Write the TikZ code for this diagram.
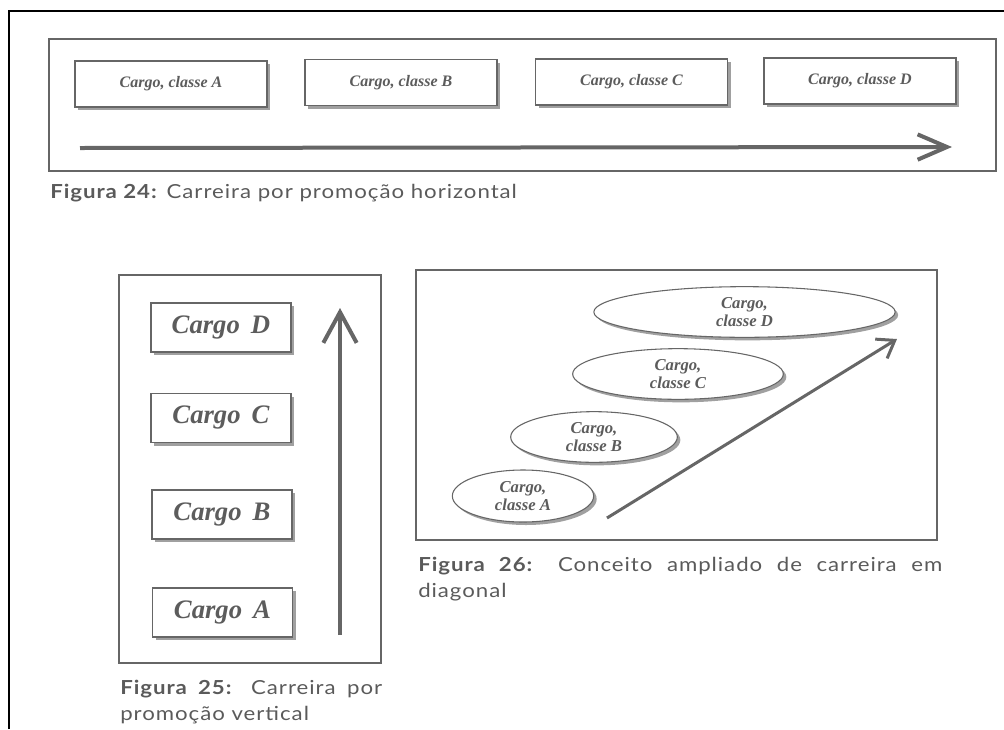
\documentclass[tikz,border=0pt]{standalone}
\usepackage{fontspec}
\setmainfont{Liberation Serif}
\newfontfamily\capfont[FakeStretch=1.15, LetterSpace=5]{Lato}
\usetikzlibrary{arrows.meta,shadows,shapes.geometric}
\definecolor{ink}{HTML}{5C5C5C}
\definecolor{linec}{HTML}{666666}
\definecolor{shad}{HTML}{A0A0A0}
\definecolor{capc}{HTML}{5A5A5A}
\begin{document}
\begin{tikzpicture}[x=0.75pt,y=-0.75pt,
  panel/.style={draw=linec, line width=1.5pt},
  dshadow/.style={drop shadow={shadow xshift=2.25pt, shadow yshift=-2.25pt, fill=shad, opacity=1}},
  hbox/.style={draw=linec, line width=1pt, fill=white, inner sep=0pt, minimum width=144pt, minimum height=34.5pt, text=ink, font=\fontsize{12}{14}\selectfont\bfseries\itshape, dshadow},
  vbox/.style={draw=linec, line width=1pt, fill=white, inner sep=0pt, minimum width=105pt, minimum height=36.75pt, text=ink, font=\fontsize{20}{22}\selectfont\bfseries\itshape, dshadow},
  ebox/.style={ellipse, draw=linec, line width=0.8pt, fill=white, inner sep=0pt, align=center, text=ink, font=\fontsize{12.5}{13}\selectfont\bfseries\itshape, dshadow},
  figcap/.style={inner sep=0pt, text=capc, font=\capfont\fontsize{14.5}{19.5}\selectfont},
  bigarrow/.style={draw=linec, line width=3pt}
]
\useasboundingbox (0,0) rectangle (1004,729);
% page frame
\draw[black, line width=1.5pt] (9,729) -- (9,11) -- (1004,11);

% Figure 24
\draw[panel] (49,39) rectangle (996,171);
\node[hbox] (hA) at (171,84) {Cargo, classe A};
\node[hbox] (hB) at (401,82.5) {Cargo, classe B};
\node[hbox] (hC) at (631.5,82) {Cargo, classe C};
\node[hbox] (hD) at (860,81) {Cargo, classe D};
\coordinate (h0) at (80,148);
\coordinate (h1) at (952,147);
\draw[bigarrow, -{Straight Barb[length=22pt,width=19pt]}] (h0) -- (h1);
\node[figcap, anchor=base west] (c24) at (50,198) {\textbf{Figura 24:} Carreira por promoção horizontal};

% Figure 25
\draw[panel] (119,275) rectangle (381,663);
\node[vbox] (vD) at (221,327.5) {Cargo\, D};
\node[vbox] (vC) at (221,418) {Cargo\, C};
\node[vbox] (vB) at (222,514.5) {Cargo\, B};
\node[vbox] (vA) at (222.5,612.5) {Cargo\, A};
\coordinate (v0) at (340,635);
\coordinate (v1) at (340,308);
\draw[bigarrow, -{Straight Barb[length=23pt,width=25pt]}] (v0) -- (v1);
\node[figcap, anchor=base west, text width=196.5pt, align=justify] (c25) at (120,694) {\textbf{Figura 25:} Carreira por\linebreak promoção vertical};

% Figure 26
\draw[panel] (416,270) rectangle (937,540);
\node[ebox, minimum width=226pt, minimum height=38pt] (eD) at (744.5,312) {Cargo,\\classe D};
\node[ebox, minimum width=158pt, minimum height=38pt] (eC) at (678,374) {Cargo,\\classe C};
\node[ebox, minimum width=125pt, minimum height=38pt] (eB) at (594,437) {Cargo,\\classe B};
\node[ebox, minimum width=106pt, minimum height=39pt] (eA) at (523,496) {Cargo,\\classe A};
\coordinate (d0) at (607,518);
\coordinate (d1) at (897,339);
\draw[draw=linec, line width=2.25pt, -{Straight Barb[length=12pt,width=17pt]}] (d0) -- (d1);
\node[figcap, anchor=base west, text width=393pt, align=justify] (c26) at (418,571) {\textbf{Figura 26:} Conceito ampliado de carreira em\linebreak diagonal};
\end{tikzpicture}
\end{document}
